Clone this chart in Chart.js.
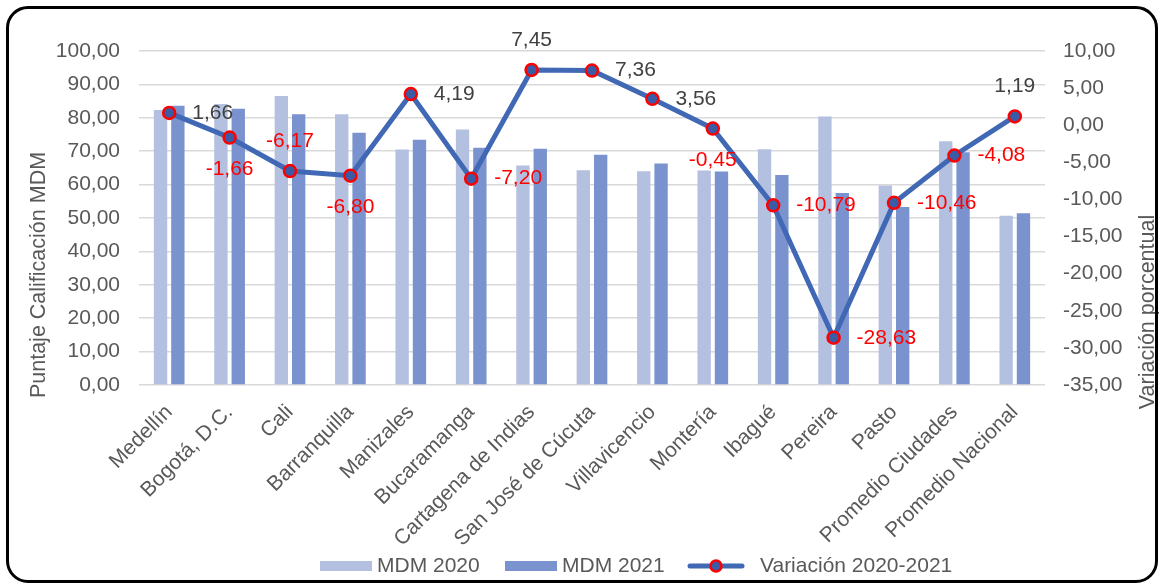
<!DOCTYPE html>
<html>
<head>
<meta charset="utf-8">
<script src="https://cdn.jsdelivr.net/npm/chart.js@4/dist/chart.umd.min.js"></script>
<style>
    body { margin: 0; background: #fff; }
    #wrap { position: relative; width: 1162px; height: 587px; }
    #frame {
        position: absolute; left: 6px; top: 6px; width: 1146px; height: 571px;
        border: 3px solid #000; border-radius: 22px; pointer-events: none;
    }
</style>
</head>
<body>
<div id="wrap">
    <canvas id="chart" width="1162" height="587"></canvas>
    <div id="frame"></div>
</div>
<script>
const categories = ["Medellín", "Bogotá, D.C.", "Cali", "Barranquilla", "Manizales", "Bucaramanga",
    "Cartagena de Indias", "San José de Cúcuta", "Villavicencio", "Montería", "Ibagué", "Pereira",
    "Pasto", "Promedio Ciudades", "Promedio Nacional"];
const mdm2020 = [82.3, 84.1, 86.5, 81.1, 70.5, 76.5, 65.7, 64.3, 64.0, 64.2, 70.6, 80.4, 59.7, 73.0, 50.7];
const mdm2021 = [83.6, 82.7, 81.1, 75.5, 73.4, 71.0, 70.7, 68.9, 66.3, 63.9, 62.9, 57.5, 53.3, 69.7, 51.4];
const variacion = [1.66, -1.66, -6.17, -6.80, 4.19, -7.20, 7.45, 7.36, 3.56, -0.45, -10.79, -28.63, -10.46, -4.08, 1.19];
const leftTicks = { min: 0, max: 100, step: 10 };
const rightTicks = { min: -35, max: 10, step: 5 };
// where each variation label sits relative to its point
const labelPlace = ['right', 'below', 'above', 'below', 'right', 'right', 'above', 'right', 'right',
    'below', 'right', 'right', 'right', 'right', 'above'];

const FONT = "'Liberation Sans', Arial, sans-serif";
const GREY = '#595959';
const C2020 = '#B4C0E0';
const C2021 = '#7A93CF';
const CLINE = '#4068B4';
const fmt = v => Number(v).toFixed(2).replace('.', ',');

const extras = {
    id: 'extras',
    afterDatasetsDraw(chart) {
        const ctx = chart.ctx;
        const meta = chart.getDatasetMeta(0);
        ctx.save();
        ctx.font = `21px ${FONT}`;
        meta.data.forEach((pt, i) => {
            const v = variacion[i];
            ctx.fillStyle = v < 0 ? '#FF0000' : '#404040';
            let x = pt.x, y = pt.y;
            if (labelPlace[i] === 'right') {
                ctx.textAlign = 'left'; ctx.textBaseline = 'middle'; x += 23;
            } else if (labelPlace[i] === 'above') {
                ctx.textAlign = 'center'; ctx.textBaseline = 'middle'; y -= 30;
            } else {
                ctx.textAlign = 'center'; ctx.textBaseline = 'middle'; y += 32;
            }
            ctx.fillText(fmt(v), x, y);
        });
        ctx.restore();
    },
    afterDraw(chart) {
        const ctx = chart.ctx;
        ctx.save();
        // axis titles, both read bottom to top
        ctx.font = `21.5px ${FONT}`;
        ctx.fillStyle = GREY;
        ctx.textAlign = 'center';
        ctx.textBaseline = 'middle';
        ctx.translate(39, 275);
        ctx.rotate(-Math.PI / 2);
        ctx.fillText('Puntaje Calificación MDM', 0, 0);
        ctx.restore();
        ctx.save();
        ctx.font = `21.5px ${FONT}`;
        ctx.fillStyle = GREY;
        ctx.textAlign = 'center';
        ctx.textBaseline = 'middle';
        ctx.translate(1148, 312);
        ctx.rotate(-Math.PI / 2);
        ctx.fillText('Variación porcentual', 0, 0);
        ctx.restore();

        // legend
        ctx.save();
        ctx.font = `21px ${FONT}`;
        ctx.fillStyle = GREY;
        ctx.textBaseline = 'middle';
        ctx.textAlign = 'left';
        const ly = 566;
        ctx.fillStyle = C2020;
        ctx.fillRect(320, ly - 5, 52, 10);
        ctx.fillStyle = GREY;
        ctx.fillText(chart.data.datasets[1].label, 377, ly);
        ctx.fillStyle = C2021;
        ctx.fillRect(505, ly - 5, 52, 10);
        ctx.fillStyle = GREY;
        ctx.fillText(chart.data.datasets[2].label, 562, ly);
        ctx.strokeStyle = CLINE;
        ctx.lineWidth = 5;
        ctx.lineCap = 'round';
        ctx.beginPath();
        ctx.moveTo(690, ly); ctx.lineTo(742, ly);
        ctx.stroke();
        ctx.beginPath();
        ctx.arc(716, ly, 5.5, 0, Math.PI * 2);
        ctx.fillStyle = '#3A5BA5';
        ctx.fill();
        ctx.lineWidth = 2.5;
        ctx.strokeStyle = '#FF0000';
        ctx.stroke();
        ctx.fillStyle = GREY;
        ctx.fillText(chart.data.datasets[0].label, 760, ly);
        ctx.restore();
    }
};

new Chart(document.getElementById('chart'), {
    data: {
        labels: categories,
        datasets: [
            {
                type: 'line',
                label: 'Variación 2020-2021',
                data: variacion,
                yAxisID: 'y1',
                order: 0,
                borderColor: CLINE,
                borderWidth: 5,
                pointRadius: 6,
                pointBorderWidth: 2.5,
                pointBorderColor: '#FF0000',
                pointBackgroundColor: '#3A5BA5',
                tension: 0
            },
            {
                type: 'bar',
                label: 'MDM 2020',
                data: mdm2020,
                yAxisID: 'y',
                order: 1,
                backgroundColor: C2020,
                categoryPercentage: 0.574,
                barPercentage: 0.77
            },
            {
                type: 'bar',
                label: 'MDM 2021',
                data: mdm2021,
                yAxisID: 'y',
                order: 1,
                backgroundColor: C2021,
                categoryPercentage: 0.574,
                barPercentage: 0.77
            }
        ]
    },
    options: {
        responsive: false,
        animation: false,
        layout: { padding: { top: 51, left: 0, right: 0, bottom: 0 } },
        plugins: {
            legend: { display: false },
            tooltip: { enabled: false }
        },
        scales: {
            x: {
                grid: { display: false },
                border: { display: false },
                ticks: {
                    color: GREY,
                    font: { family: FONT, size: 21 },
                    minRotation: 45,
                    maxRotation: 45,
                    padding: 7,
                    autoSkip: false
                },
                afterFit: s => { s.height = 202; }
            },
            y: {
                position: 'left',
                min: leftTicks.min,
                max: leftTicks.max,
                grid: { color: '#D9D9D9', lineWidth: 1.5, drawTicks: false },
                border: { display: false },
                ticks: {
                    stepSize: leftTicks.step,
                    color: GREY,
                    font: { family: FONT, size: 21 },
                    padding: 19,
                    callback: v => fmt(v)
                },
                afterFit: s => { s.width = 139; }
            },
            y1: {
                position: 'right',
                min: rightTicks.min,
                max: rightTicks.max,
                grid: { display: false, drawTicks: false },
                border: { display: false },
                ticks: {
                    stepSize: rightTicks.step,
                    color: GREY,
                    font: { family: FONT, size: 21 },
                    padding: 18,
                    callback: v => fmt(v)
                },
                afterFit: s => { s.width = 117; }
            }
        }
    },
    plugins: [extras]
});
</script>
</body>
</html>
